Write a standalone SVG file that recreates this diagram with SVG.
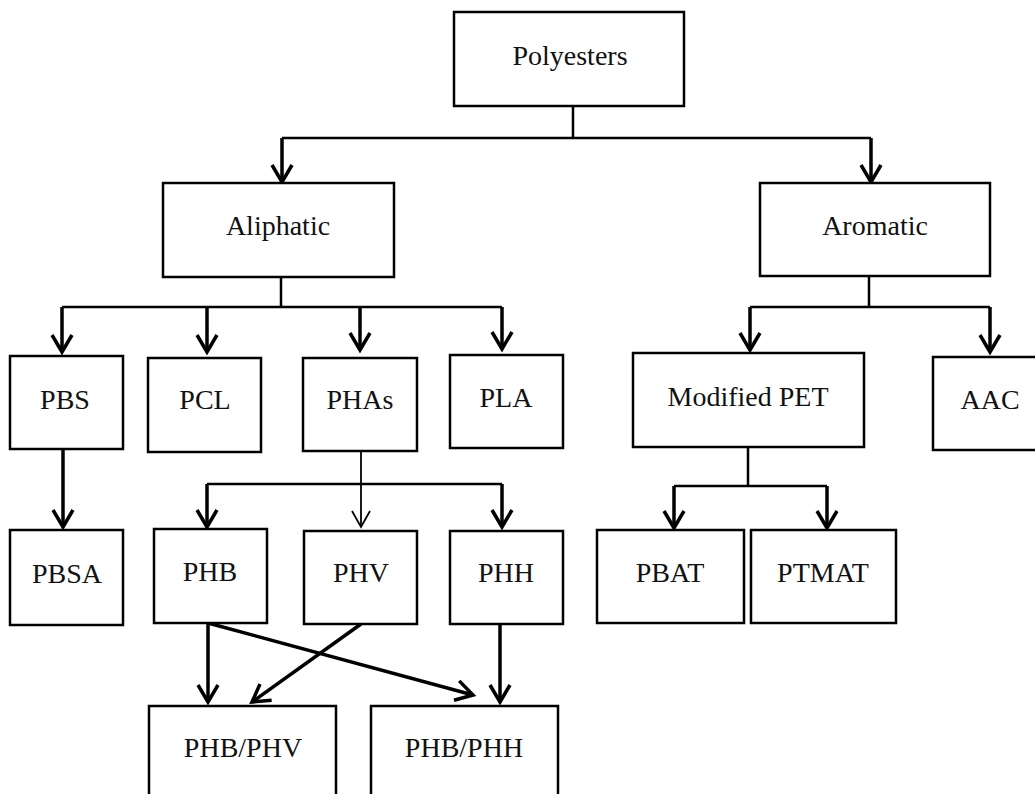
<svg xmlns="http://www.w3.org/2000/svg" width="1035" height="794" viewBox="0 0 1035 794">
<style>
  .box rect { fill: #fff; stroke: #000; stroke-width: 2.5; }
  .box text { font-family: "Liberation Serif", "Times New Roman", serif; font-size: 28px; fill: #111; text-anchor: middle; }
  .ln { fill: none; stroke: #000; stroke-width: 2.5; }
  .ar { fill: none; stroke: #000; stroke-width: 3.5; marker-end: url(#ah); }
  .thin { fill: none; stroke: #000; stroke-width: 1.8; marker-end: url(#aht); }
</style>
<defs>
  <marker id="ah" markerUnits="userSpaceOnUse" viewBox="-20 -13 22 26" markerWidth="22" markerHeight="26" refX="0" refY="0" orient="auto" overflow="visible">
    <path d="M-17,-10 L0,0 L-17,10" fill="none" stroke="#000" stroke-width="3.5"/>
  </marker>
  <marker id="aht" markerUnits="userSpaceOnUse" viewBox="-20 -13 22 26" markerWidth="22" markerHeight="26" refX="0" refY="0" orient="auto" overflow="visible">
    <path d="M-16,-9 L0,0 L-16,9" fill="none" stroke="#000" stroke-width="1.8"/>
  </marker>
</defs>
<rect width="1035" height="794" fill="#fff"/>

<g id="connectors">
  <path class="ln" d="M573,106 V138 M282,138 H871"/>
  <path class="ar" d="M282,138 V182"/>
  <path class="ar" d="M871,138 V182"/>

  <path class="ln" d="M281,277 V307 M62,307 H502"/>
  <path class="ar" d="M62,307 V352"/>
  <path class="ar" d="M207,307 V352"/>
  <path class="ar" d="M360,307 V350"/>
  <path class="ar" d="M502,307 V349"/>

  <path class="ln" d="M869,276 V307 M750,307 H990"/>
  <path class="ar" d="M750,307 V350"/>
  <path class="ar" d="M990,307 V352"/>

  <path class="ar" d="M63,449 V527"/>

  <path class="thin" d="M361,451 V527"/>
  <path class="ln" d="M207,484 H502"/>
  <path class="ar" d="M207,484 V527"/>
  <path class="ar" d="M502,484 V527"/>

  <path class="ln" d="M748,447 V486 M674,486 H827"/>
  <path class="ar" d="M674,486 V528"/>
  <path class="ar" d="M827,486 V528"/>

  <path class="ar" d="M208,623 V702"/>
  <path class="ar" d="M208,623 L473,695"/>
  <path class="ar" d="M361,624 L252,702"/>
  <path class="ar" d="M500,624 V702"/>
</g>

<g id="polyesters" class="box"><rect x="454" y="12" width="230" height="94"/><text x="570" y="65">Polyesters</text></g>
<g id="aliphatic" class="box"><rect x="163" y="183" width="231" height="94"/><text x="278" y="235">Aliphatic</text></g>
<g id="aromatic" class="box"><rect x="760" y="183" width="230" height="93"/><text x="875" y="235">Aromatic</text></g>
<g id="pbs" class="box"><rect x="10" y="356" width="113" height="93"/><text x="65" y="409">PBS</text></g>
<g id="pcl" class="box"><rect x="148" y="358" width="113" height="94"/><text x="205" y="409">PCL</text></g>
<g id="phas" class="box"><rect x="303" y="358" width="114" height="93"/><text x="360" y="409">PHAs</text></g>
<g id="pla" class="box"><rect x="450" y="355" width="113" height="93"/><text x="506" y="407">PLA</text></g>
<g id="modified-pet" class="box"><rect x="633" y="353" width="231" height="94"/><text x="748" y="406">Modified PET</text></g>
<g id="aac" class="box"><rect x="933" y="357" width="114" height="93"/><text x="990" y="409">AAC</text></g>
<g id="pbsa" class="box"><rect x="10" y="530" width="113" height="95"/><text x="67" y="583">PBSA</text></g>
<g id="phb" class="box"><rect x="154" y="529" width="113" height="94"/><text x="210" y="581">PHB</text></g>
<g id="phv" class="box"><rect x="304" y="531" width="113" height="93"/><text x="361" y="582">PHV</text></g>
<g id="phh" class="box"><rect x="450" y="531" width="113" height="93"/><text x="506" y="582">PHH</text></g>
<g id="pbat" class="box"><rect x="597" y="530" width="147" height="93"/><text x="670" y="582">PBAT</text></g>
<g id="ptmat" class="box"><rect x="751" y="530" width="145" height="93"/><text x="823" y="582">PTMAT</text></g>
<g id="phb-phv" class="box"><rect x="149" y="706" width="187" height="100"/><text x="243" y="757">PHB/PHV</text></g>
<g id="phb-phh" class="box"><rect x="371" y="706" width="187" height="100"/><text x="464" y="757">PHB/PHH</text></g>
</svg>
